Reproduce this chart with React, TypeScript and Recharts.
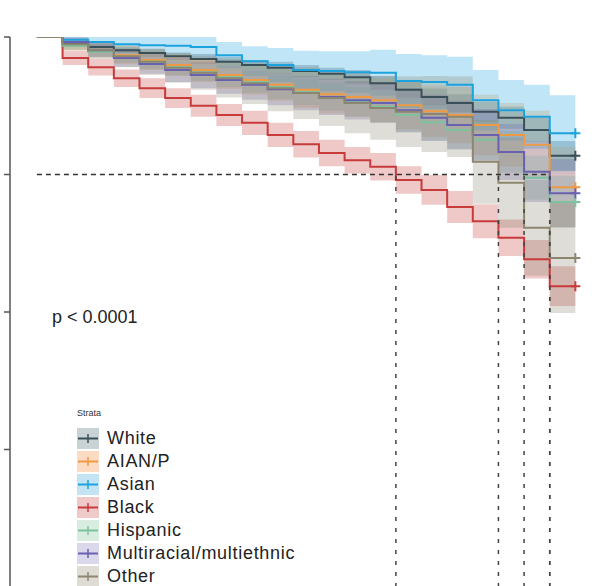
import { ComposedChart, Area, Line, XAxis, YAxis, ReferenceLine, Customized } from "recharts";

// follow-up time points (0..21), the curves step at each integer time
const times = [0, 1, 2, 3, 4, 5, 6, 7, 8, 9, 10, 11, 12, 13, 14, 15, 16, 17, 18, 19, 20, 21];

const strata = [
  { id: "white", name: "White", color: "#3b4f58", swatch: "#c9d2d5" },
  { id: "aian", name: "AIAN/P", color: "#ee9a45", swatch: "#fbdcc2" },
  { id: "asian", name: "Asian", color: "#1ca3dd", swatch: "#c4e4f4" },
  { id: "black", name: "Black", color: "#c73b3b", swatch: "#f0c9c9" },
  { id: "hispanic", name: "Hispanic", color: "#7cc39e", swatch: "#d8ece0" },
  { id: "multi", name: "Multiracial/multiethnic", color: "#6a60b0", swatch: "#dcd8ec" },
  { id: "other", name: "Other", color: "#8c8670", swatch: "#dedcd5" },
];

// survival estimates at t = 0..20
const survWhite = [1.0, 0.989, 0.982, 0.976, 0.971, 0.965, 0.96, 0.955, 0.949, 0.944, 0.938, 0.933, 0.927, 0.916, 0.904, 0.891, 0.88, 0.864, 0.853, 0.831, 0.784];
const survAian = [1.0, 0.985, 0.976, 0.967, 0.958, 0.949, 0.94, 0.931, 0.922, 0.913, 0.904, 0.896, 0.891, 0.885, 0.876, 0.865, 0.858, 0.84, 0.822, 0.804, 0.727];
const survAsian = [1.0, 0.995, 0.991, 0.987, 0.985, 0.984, 0.982, 0.967, 0.956, 0.949, 0.94, 0.938, 0.936, 0.935, 0.92, 0.918, 0.913, 0.885, 0.867, 0.855, 0.825];
const survBlack = [1.0, 0.962, 0.945, 0.925, 0.907, 0.889, 0.875, 0.858, 0.844, 0.822, 0.805, 0.789, 0.776, 0.764, 0.74, 0.722, 0.691, 0.665, 0.635, 0.596, 0.547];
const survHispanic = [1.0, 0.984, 0.973, 0.964, 0.955, 0.945, 0.936, 0.927, 0.918, 0.909, 0.9, 0.891, 0.882, 0.873, 0.858, 0.845, 0.831, 0.813, 0.791, 0.744, 0.7];
const survMulti = [1.0, 0.991, 0.976, 0.962, 0.951, 0.94, 0.931, 0.922, 0.913, 0.905, 0.898, 0.891, 0.885, 0.88, 0.867, 0.853, 0.84, 0.822, 0.791, 0.755, 0.716];
const survOther = [1.0, 0.987, 0.976, 0.965, 0.955, 0.944, 0.935, 0.925, 0.916, 0.907, 0.898, 0.889, 0.88, 0.871, 0.864, 0.86, 0.855, 0.773, 0.735, 0.653, 0.598];

// half width of the confidence band at t = 0..20
const ciWhite = [0, 0.004, 0.005, 0.005, 0.007, 0.007, 0.009, 0.009, 0.009, 0.011, 0.011, 0.011, 0.013, 0.013, 0.015, 0.015, 0.016, 0.018, 0.02, 0.022, 0.027];
const ciAian = [0, 0.009, 0.013, 0.016, 0.018, 0.02, 0.022, 0.025, 0.027, 0.029, 0.033, 0.035, 0.036, 0.04, 0.044, 0.047, 0.051, 0.055, 0.058, 0.062, 0.073];
const ciAsian = [0, 0.007, 0.011, 0.015, 0.016, 0.018, 0.02, 0.024, 0.027, 0.031, 0.035, 0.036, 0.038, 0.042, 0.049, 0.049, 0.051, 0.055, 0.055, 0.058, 0.069];
const ciBlack = [0, 0.013, 0.015, 0.016, 0.018, 0.018, 0.02, 0.02, 0.022, 0.022, 0.024, 0.024, 0.024, 0.025, 0.025, 0.027, 0.029, 0.031, 0.033, 0.035, 0.036];
const ciHispanic = [0, 0.007, 0.009, 0.011, 0.013, 0.015, 0.016, 0.018, 0.02, 0.022, 0.024, 0.025, 0.027, 0.029, 0.031, 0.033, 0.035, 0.036, 0.038, 0.04, 0.047];
const ciMulti = [0, 0.009, 0.013, 0.016, 0.018, 0.022, 0.024, 0.025, 0.027, 0.029, 0.031, 0.033, 0.035, 0.036, 0.04, 0.042, 0.044, 0.047, 0.051, 0.055, 0.062];
const ciOther = [0, 0.011, 0.016, 0.02, 0.024, 0.027, 0.031, 0.035, 0.038, 0.042, 0.047, 0.051, 0.055, 0.058, 0.064, 0.069, 0.073, 0.076, 0.082, 0.087, 0.1];

const survById: Record<string, number[]> = {
  white: survWhite, aian: survAian, asian: survAsian, black: survBlack,
  hispanic: survHispanic, multi: survMulti, other: survOther,
};
const ciById: Record<string, number[]> = {
  white: ciWhite, aian: ciAian, asian: ciAsian, black: ciBlack,
  hispanic: ciHispanic, multi: ciMulti, other: ciOther,
};

const yTicks = [0.25, 0.5, 0.75, 1.0];
const medianLevel = 0.75;
const pValue = "p < 0.0001";

const rows = times.map((t) => {
  const row: any = { t };
  strata.forEach((s) => {
    const i = Math.min(t, survById[s.id].length - 1);
    const v = survById[s.id][i];
    const h = ciById[s.id][i];
    row[s.id] = v;
    row[s.id + "_ci"] = [Math.max(0, v - h), Math.min(1, v + h)];
  });
  return row;
});

// first time each curve reaches the median level
const medians = strata
  .map((s) => times.find((t) => t < survById[s.id].length && survById[s.id][t] <= medianLevel))
  .filter((t) => t !== undefined) as number[];
const lastMedian = Math.max(...medians);

const font = "'Liberation Sans', Arial, Helvetica, sans-serif";

const censorDot = (color: string) => (props: any) => {
  const { cx, cy, index } = props;
  if (index !== times.length - 1) return <g key={`d-${index}`} />;
  return (
    <path
      key={`d-${index}`}
      d={`M${cx - 5},${cy}H${cx + 5}M${cx},${cy - 5}V${cy + 5}`}
      stroke={color}
      strokeWidth={2}
      fill="none"
    />
  );
};

const StrataLegend = () => (
  <div style={{ position: "absolute", left: 77, top: 406, fontFamily: font, color: "#222" }}>
    <div style={{ fontSize: 9, lineHeight: "14px", marginBottom: 7, color: "#333" }}>Strata</div>
    {strata.map((s) => (
      <div key={s.id} style={{ display: "flex", alignItems: "center", height: 23 }}>
        <svg width={22} height={21} style={{ display: "block" }}>
          <rect x={0} y={0} width={22} height={21} fill={s.swatch} />
          <line x1={1} x2={21} y1={10.5} y2={10.5} stroke={s.color} strokeWidth={2} />
          <line x1={11} x2={11} y1={6} y2={15} stroke={s.color} strokeWidth={1.5} />
        </svg>
        <span style={{ marginLeft: 8, fontSize: 18, letterSpacing: 0.7, lineHeight: "23px" }}>{s.name}</span>
      </div>
    ))}
  </div>
);

export default function App() {
  return (
    <div style={{ position: "fixed", left: 0, top: 0, width: 592, height: 586, overflow: "hidden", background: "#fff" }}>
      <div style={{ position: "absolute", left: -50, top: 0 }}>
        <ComposedChart width={651} height={600} data={rows} margin={{ top: 37, right: 0, bottom: 13, left: 0 }}>
          <XAxis dataKey="t" type="number" domain={[-1.05, 22]} hide />
          <YAxis
            type="number"
            domain={[0, 1]}
            ticks={yTicks}
            width={60}
            tickSize={6}
            axisLine={{ stroke: "#555", strokeWidth: 1.5 }}
            tickLine={{ stroke: "#555", strokeWidth: 1.5 }}
            tickFormatter={() => ""}
            allowDataOverflow
          />
          {strata.map((s) => (
            <Area
              key={s.id + "_ci"}
              dataKey={s.id + "_ci"}
              type="stepAfter"
              stroke="none"
              fill={s.color}
              fillOpacity={0.28}
              isAnimationActive={false}
              activeDot={false}
            />
          ))}
          {strata.map((s) => (
            <Line
              key={s.id}
              dataKey={s.id}
              type="stepAfter"
              stroke={s.color}
              strokeWidth={2}
              dot={censorDot(s.color)}
              activeDot={false}
              isAnimationActive={false}
            />
          ))}
          <ReferenceLine
            segment={[{ x: 0, y: medianLevel }, { x: lastMedian, y: medianLevel }]}
            stroke="#333"
            strokeWidth={1.5}
            strokeDasharray="5 4"
          />
          {medians.map((m) => (
            <ReferenceLine
              key={"m" + m}
              segment={[{ x: m, y: 0 }, { x: m, y: medianLevel }]}
              stroke="#444"
              strokeWidth={1.5}
              strokeDasharray="4 7"
            />
          ))}
          <Customized
            component={() => (
              <text x={102} y={323} fontFamily={font} fontSize={18} fill="#222">
                {pValue}
              </text>
            )}
          />
        </ComposedChart>
      </div>
      <StrataLegend />
    </div>
  );
}
